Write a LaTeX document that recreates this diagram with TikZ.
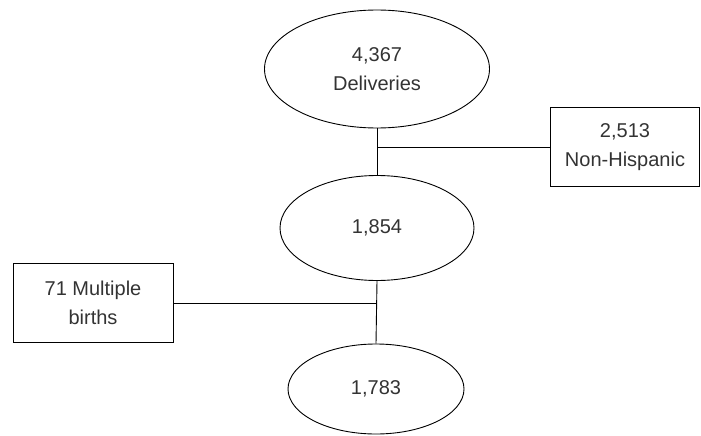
\documentclass[tikz,border=0pt]{standalone}
\usepackage{fontspec}
\setmainfont{Liberation Sans}
\usetikzlibrary{shapes.geometric}
\begin{document}
\begin{tikzpicture}[x=1pt,y=-1pt,
  every node/.style={font=\fontsize{20}{29}\selectfont, text=black!80, align=center},
  oval/.style={ellipse, draw=black, line width=0.9pt, inner sep=0pt},
  infobox/.style={rectangle, draw=black, line width=0.9pt, inner sep=0pt},
  link/.style={draw=black, line width=0.9pt}]
\useasboundingbox (0,0) rectangle (701,436);
\node[oval, minimum width=225pt, minimum height=118pt] (e1) at (377,69) {4,367\\Deliveries};
\node[oval, minimum width=194pt, minimum height=105pt] (e2) at (377,228) {1,854};
\node[oval, minimum width=176pt, minimum height=90pt] (e3) at (376,389) {1,783};
\node[infobox, minimum width=149pt, minimum height=79pt] (b1) at (625,147) {2,513\\Non-Hispanic};
\node[infobox, minimum width=160pt, minimum height=79pt] (b2) at (93,303) {71 Multiple\\births};
\draw[link] (e1.south) -- (e2.north);
\draw[link] (b1.west) -- (b1.west -| e1.south);
\draw[link] (e2.south) -- (e3.north);
\draw[link] (b2.east) -- (b2.east -| e2.south);
\end{tikzpicture}
\end{document}
